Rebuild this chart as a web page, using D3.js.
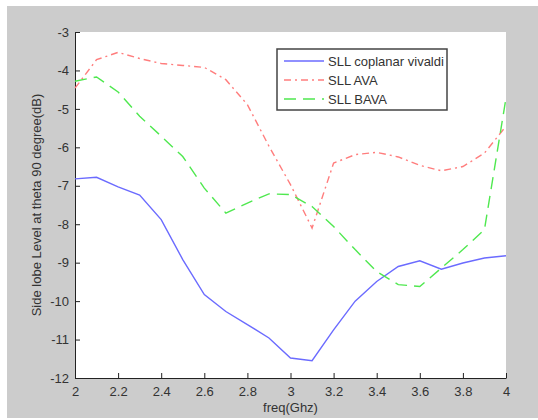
<!DOCTYPE html>
<meta charset="utf-8">
<style>
body { margin: 0; background: #fff; }
text { font-family: "Liberation Sans", Arial, sans-serif; fill: #333; }
.axis path, .axis line { stroke: #222; }
.series { fill: none; stroke-width: 1.4px; }
</style>
<svg width="538" height="420"></svg>
<script src="https://d3js.org/d3.v7.min.js"></script>
<script>

// frequency points (GHz)
var freq = [2.0, 2.1, 2.2, 2.3, 2.4, 2.5, 2.6, 2.7, 2.8, 2.9, 3.0,
            3.1, 3.2, 3.3, 3.4, 3.5, 3.6, 3.7, 3.8, 3.9, 4.0];

var sllVivaldi = [-6.82, -6.78, -7.03, -7.24, -7.88, -8.92, -9.83, -10.27, -10.61, -10.96, -11.48,
                  -11.55, -10.75, -10.0, -9.49, -9.10, -8.95, -9.17, -9.01, -8.88, -8.82];
var sllAva     = [-4.46, -3.72, -3.53, -3.69, -3.82, -3.87, -3.92, -4.24, -4.89, -5.97, -6.97,
                  -8.10, -6.41, -6.19, -6.13, -6.25, -6.47, -6.61, -6.50, -6.15, -5.45];
var sllBava    = [-4.28, -4.17, -4.56, -5.19, -5.71, -6.24, -7.06, -7.71, -7.45, -7.21, -7.23,
                  -7.54, -8.06, -8.66, -9.23, -9.57, -9.62, -9.14, -8.66, -8.14, -4.72];

var xTicks = [2, 2.2, 2.4, 2.6, 2.8, 3, 3.2, 3.4, 3.6, 3.8, 4];
var yTicks = [-3, -4, -5, -6, -7, -8, -9, -10, -11, -12];

var seriesNames = ["SLL coplanar vivaldi", "SLL AVA", "SLL BAVA"];

var series = [
  {name: seriesNames[0], values: sllVivaldi, color: "#6b6bff", dash: null},
  {name: seriesNames[1], values: sllAva, color: "#ff7d7d", dash: "7,4,2,4"},
  {name: seriesNames[2], values: sllBava, color: "#4fe84f", dash: "12,7"}
];

var svg = d3.select("svg");

// matlab-ish gray figure background
svg.append("rect").attr("x", 7).attr("y", 6).attr("width", 531).attr("height", 412).attr("fill", "#cccccc");

var margin = {top: 32, left: 75, right: 32, bottom: 42},
    width = 538 - margin.left - margin.right,
    height = 420 - margin.top - margin.bottom;

var g = svg.append("g").attr("transform", "translate(" + margin.left + "," + margin.top + ")");

g.append("rect").attr("width", width).attr("height", height).attr("fill", "#fff");

var x = d3.scaleLinear().domain([2, 4]).range([0, width]);
var y = d3.scaleLinear().domain([-12, -3]).range([height, 0]);

// plain hyphen minus like matlab
var fmt = function(d) { return String(d); };

g.append("g")
    .attr("class", "axis")
    .attr("transform", "translate(0," + height + ")")
    .call(d3.axisBottom(x).tickValues(xTicks).tickSize(-5).tickSizeOuter(0).tickPadding(6).tickFormat(fmt))
    .call(function(a) { a.selectAll("text").style("font-size", "13px").attr("dy", "0.9em"); });

g.append("g")
    .attr("class", "axis")
    .call(d3.axisLeft(y).tickValues(yTicks).tickSize(-5).tickSizeOuter(0).tickPadding(6).tickFormat(fmt))
    .call(function(a) { a.selectAll("text").style("font-size", "13px"); });

g.selectAll(".axis text").style("font-family", "'Liberation Sans', Arial, sans-serif").attr("fill", "#333");

var line = d3.line()
    .x(function(d, i) { return x(freq[i]); })
    .y(function(d) { return y(d); });

g.selectAll(".series")
    .data(series)
    .enter().append("path")
      .attr("class", "series")
      .attr("d", function(d) { return line(d.values); })
      .style("stroke", function(d) { return d.color; })
      .style("stroke-dasharray", function(d) { return d.dash; });

// axis labels
svg.append("text")
    .attr("x", margin.left + width / 2)
    .attr("y", 412)
    .attr("text-anchor", "middle")
    .style("font-size", "13px")
    .text("freq(Ghz)");

svg.append("text")
    .attr("transform", "translate(41," + (margin.top + height / 2) + ") rotate(-90)")
    .attr("text-anchor", "middle")
    .style("font-size", "13px")
    .text("Side lobe Level at theta 90 degree(dB)");

// legend
var lg = svg.append("g").attr("transform", "translate(277,49)");
lg.append("rect")
    .attr("width", 170).attr("height", 61)
    .attr("fill", "#fff").attr("stroke", "#444").attr("stroke-width", 1.5);

var item = lg.selectAll(".item")
    .data(series)
    .enter().append("g")
      .attr("transform", function(d, i) { return "translate(0," + (12 + i * 19) + ")"; });

item.append("line")
    .attr("x1", 7).attr("x2", 47)
    .style("stroke", function(d) { return d.color; })
    .style("stroke-width", 1.4)
    .style("stroke-dasharray", function(d) { return d.dash; });

item.append("text")
    .attr("x", 51)
    .attr("dy", "0.35em")
    .style("font-size", "13px")
    .text(function(d) { return d.name; });

</script>
